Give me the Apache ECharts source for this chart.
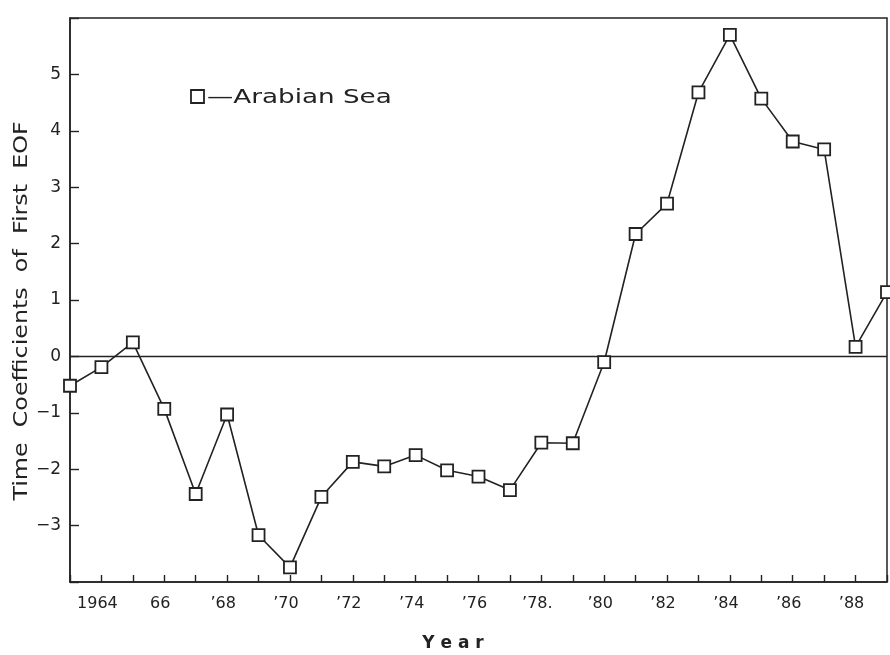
<!DOCTYPE html>
<html>
<head>
<meta charset="utf-8">
<script src="https://cdn.jsdelivr.net/npm/echarts@6/dist/echarts.min.js"></script>
<style>
  html, body { margin: 0; padding: 0; background: #fff; }
  #chart { width: 890px; height: 655px; }
</style>
</head>
<body>
<div id="chart"></div>
<script>
// ---- data ----
var years = [1963, 1964, 1965, 1966, 1967, 1968, 1969, 1970, 1971, 1972, 1973, 1974, 1975, 1976,
             1977, 1978, 1979, 1980, 1981, 1982, 1983, 1984, 1985, 1986, 1987, 1988, 1989];
var arabianSea = [-0.52, -0.19, 0.25, -0.93, -2.44, -1.03, -3.17, -3.74, -2.49, -1.87, -1.95, -1.75, -2.02, -2.13,
                  -2.37, -1.53, -1.54, -0.10, 2.17, 2.71, 4.68, 5.70, 4.57, 3.81, 3.67, 0.17, 1.14];
var xTickYears = [1964, 1966, 1968, 1970, 1972, 1974, 1976, 1978, 1980, 1982, 1984, 1986, 1988];
var xTickLabels = ["1964", "66", "\u201968", "\u201970", "\u201972", "\u201974", "\u201976", "\u201978.", "\u201980", "\u201982", "\u201984", "\u201986", "\u201988"];
var yTickValues = [-3, -2, -1, 0, 1, 2, 3, 4, 5];
var seriesName = 'Arabian Sea';
var xTitle = 'Y e a r';
var yTitle = 'Time  Coefficients  of  First  EOF';

var seriesData = years.map(function (y, i) { return [y, arabianSea[i]]; });

var chart = echarts.init(document.getElementById('chart'), null, { renderer: 'canvas' });
var ink = '#222222';
var font = '"DejaVu Sans", "Noto Sans", sans-serif';

chart.setOption({
  backgroundColor: '#ffffff',
  animation: false,
  grid: {
    left: 70, right: 3, top: 18, bottom: 73,
    show: true, borderColor: ink, borderWidth: 1.5, backgroundColor: 'transparent'
  },
  graphic: [
    {
      type: 'text', x: 22, y: 311, rotation: Math.PI / 2, scaleX: 1.19, scaleY: 1,
      style: {
        text: yTitle, fill: ink, font: '20px ' + font,
        textAlign: 'center', align: 'center', textVerticalAlign: 'middle', verticalAlign: 'middle'
      }
    },
    {
      type: 'text', x: 453, y: 644,
      style: {
        text: xTitle, fill: ink, font: 'bold 17px ' + font,
        textAlign: 'center', align: 'center', textVerticalAlign: 'middle', verticalAlign: 'middle'
      }
    },
    {
      type: 'rect', shape: { x: 191, y: 90, width: 13, height: 13 },
      style: { fill: '#fff', stroke: ink, lineWidth: 1.8 }
    },
    {
      type: 'text', x: 207, y: 98, scaleX: 1.38, scaleY: 1,
      style: {
        text: '\u2014' + seriesName, fill: ink, font: '19px ' + font,
        textAlign: 'left', align: 'left', textVerticalAlign: 'middle', verticalAlign: 'middle'
      }
    }
  ],
  xAxis: {
    type: 'value',
    min: 1963, max: 1989, interval: 1,
    axisLine: { show: true, onZero: false, lineStyle: { color: ink, width: 1.5 } },
    axisTick: { show: true, inside: true, length: 7, lineStyle: { color: ink, width: 1.4 } },
    splitLine: { show: false },
    axisLabel: {
      fontFamily: font, fontSize: 16, color: ink, margin: 14, showMinLabel: true, showMaxLabel: true,
      padding: [0, 8, 0, 0],
      formatter: function (v) {
        var k = xTickYears.indexOf(Math.round(v));
        return k >= 0 ? xTickLabels[k] : '';
      }
    }
  },
  yAxis: {
    type: 'value',
    min: -4, max: 6, interval: 1,
    axisLine: { show: true, onZero: false, lineStyle: { color: ink, width: 1.5 } },
    axisTick: { show: true, inside: true, length: 9, lineStyle: { color: ink, width: 1.4 } },
    splitLine: { show: false },
    axisLabel: {
      fontFamily: font, fontSize: 17, color: ink, margin: 9,
      formatter: function (v) {
        return yTickValues.indexOf(v) >= 0 ? (v < 0 ? '\u2212' + Math.abs(v) : String(v)) : '';
      }
    }
  },
  series: [{
    name: seriesName,
    type: 'line',
    data: seriesData,
    symbol: 'rect',
    symbolSize: 12,
    showAllSymbol: true,
    lineStyle: { color: ink, width: 1.6 },
    itemStyle: { color: '#fff', borderColor: ink, borderWidth: 1.8 },
    z: 5,
    markLine: {
      silent: true,
      symbol: ['none', 'none'],
      label: { show: false },
      lineStyle: { color: ink, width: 1.3, type: 'solid' },
      data: [{ yAxis: 0 }],
      z: 1
    }
  }]
});
</script>
</body>
</html>
